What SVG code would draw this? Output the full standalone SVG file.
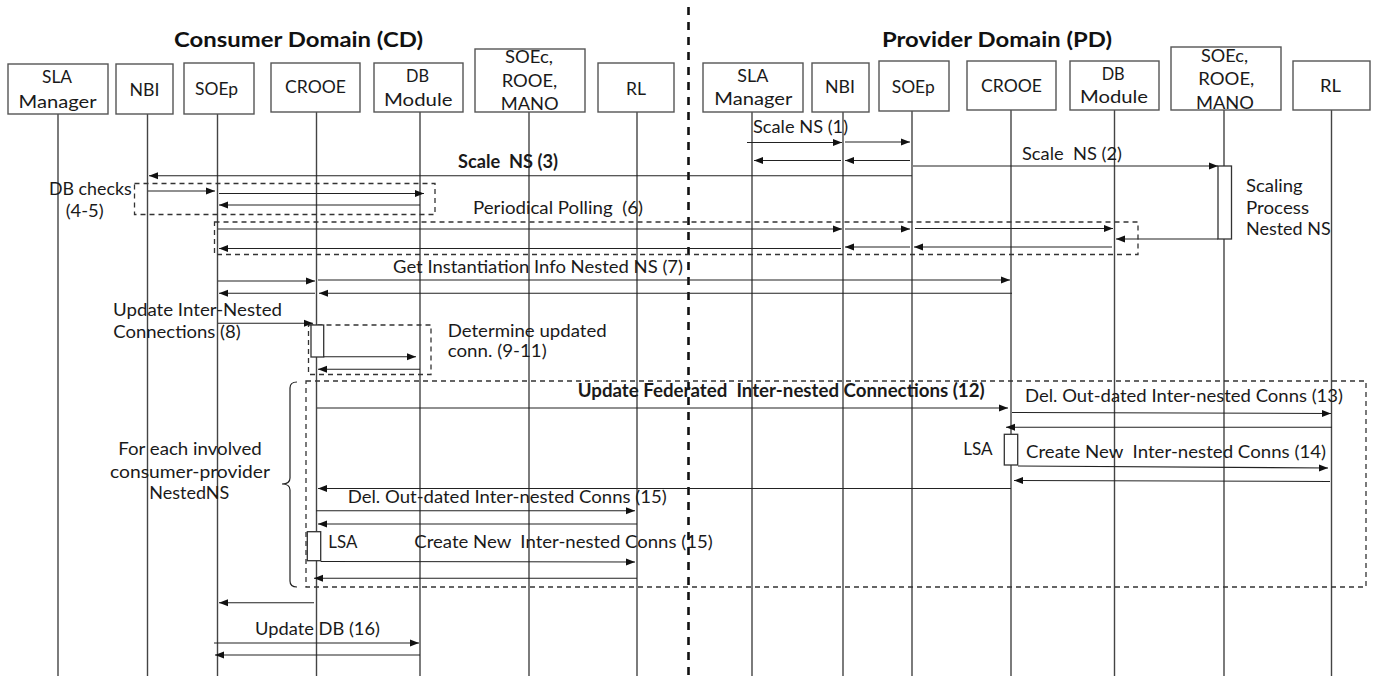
<svg xmlns="http://www.w3.org/2000/svg" width="1379" height="679" viewBox="0 0 1379 679">
<defs>
<marker id="ah" markerWidth="9" markerHeight="8" refX="9" refY="4" orient="auto" markerUnits="userSpaceOnUse"><path d="M0,0.5 L9,4 L0,7.5 z" fill="#111"/></marker>
<style>
.box{fill:#fff;stroke:#555;stroke-width:1.4}
.life{stroke:#444;stroke-width:1.4;fill:none}
.t{font-family:Lato,"Liberation Sans",sans-serif;font-size:18px;fill:#1a1a1a;white-space:pre}
.b{font-weight:bold}
.ttl{font-family:Lato,"Liberation Sans",sans-serif;font-size:21px;font-weight:bold;fill:#111}
.msg{stroke:#222;stroke-width:1.1;fill:none;marker-end:url(#ah)}
.dash{fill:none;stroke:#333;stroke-width:1.3;stroke-dasharray:5,4}
.act{fill:#fff;stroke:#333;stroke-width:1.3}
</style>
</defs>
<rect width="1379" height="679" fill="#fff"/>

<line x1="688.5" y1="7" x2="688.5" y2="679" stroke="#111" stroke-width="2.6" stroke-dasharray="8,7"/>
<text class="ttl" x="174" y="46.7" textLength="249" lengthAdjust="spacingAndGlyphs">Consumer Domain (CD)</text>
<text class="ttl" x="882" y="46.7" textLength="230" lengthAdjust="spacingAndGlyphs">Provider Domain (PD)</text>

<!-- Consumer domain nodes -->
<g id="cd-sla">
<line class="life" x1="58" y1="114" x2="58" y2="676"/>
<rect class="box" x="8" y="64" width="100" height="50"/>
<text class="t" x="42" y="83.3" textLength="30" lengthAdjust="spacingAndGlyphs">SLA</text>
<text class="t" x="18.5" y="107.5" textLength="78" lengthAdjust="spacingAndGlyphs">Manager</text>
</g>
<g id="cd-nbi">
<line class="life" x1="147.5" y1="114" x2="147.5" y2="676"/>
<rect class="box" x="116" y="64" width="57" height="50"/>
<text class="t" x="129.5" y="96" textLength="30" lengthAdjust="spacingAndGlyphs">NBI</text>
</g>
<g id="cd-soep">
<line class="life" x1="217.5" y1="114" x2="217.5" y2="676"/>
<rect class="box" x="184" y="63" width="70" height="51"/>
<text class="t" x="195" y="95" textLength="43" lengthAdjust="spacingAndGlyphs">SOEp</text>
</g>
<g id="cd-crooe">
<line class="life" x1="316.5" y1="112" x2="316.5" y2="676"/>
<rect class="box" x="271" y="63" width="89" height="49"/>
<text class="t" x="285" y="93.3" textLength="61" lengthAdjust="spacingAndGlyphs">CROOE</text>
</g>
<g id="cd-db">
<line class="life" x1="420" y1="112" x2="420" y2="676"/>
<rect class="box" x="374" y="63" width="89" height="49"/>
<text class="t" x="406" y="81.7" textLength="23" lengthAdjust="spacingAndGlyphs">DB</text>
<text class="t" x="384" y="105.7" textLength="68.5" lengthAdjust="spacingAndGlyphs">Module</text>
</g>
<g id="cd-soec">
<line class="life" x1="529" y1="112" x2="529" y2="676"/>
<rect class="box" x="475" y="49" width="110" height="63"/>
<text class="t" x="505" y="63.3" textLength="48" lengthAdjust="spacingAndGlyphs">SOEc,</text>
<text class="t" x="501.7" y="86.7" textLength="55.6" lengthAdjust="spacingAndGlyphs">ROOE,</text>
<text class="t" x="500.7" y="110" textLength="58" lengthAdjust="spacingAndGlyphs">MANO</text>
</g>
<g id="cd-rl">
<line class="life" x1="637" y1="112" x2="637" y2="676"/>
<rect class="box" x="598" y="63" width="76" height="49"/>
<text class="t" x="626" y="95" textLength="20" lengthAdjust="spacingAndGlyphs">RL</text>
</g>

<!-- Provider domain nodes -->
<g id="pd-sla">
<line class="life" x1="752" y1="112" x2="752" y2="676"/>
<rect class="box" x="703" y="63" width="100" height="49"/>
<text class="t" x="737.3" y="81.7" textLength="31" lengthAdjust="spacingAndGlyphs">SLA</text>
<text class="t" x="714.3" y="105" textLength="78" lengthAdjust="spacingAndGlyphs">Manager</text>
</g>
<g id="pd-nbi">
<line class="life" x1="843" y1="112" x2="843" y2="676"/>
<rect class="box" x="812" y="63" width="57" height="49"/>
<text class="t" x="825" y="93.3" textLength="30" lengthAdjust="spacingAndGlyphs">NBI</text>
</g>
<g id="pd-soep">
<line class="life" x1="912" y1="111" x2="912" y2="676"/>
<rect class="box" x="879" y="61" width="70" height="50"/>
<text class="t" x="891.7" y="93" textLength="43" lengthAdjust="spacingAndGlyphs">SOEp</text>
</g>
<g id="pd-crooe">
<line class="life" x1="1011" y1="110" x2="1011" y2="676"/>
<rect class="box" x="967" y="61" width="89" height="49"/>
<text class="t" x="981" y="91.7" textLength="61" lengthAdjust="spacingAndGlyphs">CROOE</text>
</g>
<g id="pd-db">
<line class="life" x1="1114.5" y1="110" x2="1114.5" y2="676"/>
<rect class="box" x="1070" y="61" width="89" height="49"/>
<text class="t" x="1101.7" y="80" textLength="23" lengthAdjust="spacingAndGlyphs">DB</text>
<text class="t" x="1080" y="102.7" textLength="68" lengthAdjust="spacingAndGlyphs">Module</text>
</g>
<g id="pd-soec">
<line class="life" x1="1224" y1="110" x2="1224" y2="676"/>
<rect class="box" x="1171" y="47" width="110" height="63"/>
<text class="t" x="1201" y="61.7" textLength="47" lengthAdjust="spacingAndGlyphs">SOEc,</text>
<text class="t" x="1198.3" y="85" textLength="56" lengthAdjust="spacingAndGlyphs">ROOE,</text>
<text class="t" x="1196" y="108.7" textLength="58" lengthAdjust="spacingAndGlyphs">MANO</text>
</g>
<g id="pd-rl">
<line class="life" x1="1331.5" y1="110" x2="1331.5" y2="676"/>
<rect class="box" x="1293" y="61" width="77" height="49"/>
<text class="t" x="1320" y="91.7" textLength="21" lengthAdjust="spacingAndGlyphs">RL</text>
</g>

<!-- Fragments / activation boxes -->
<g id="fragments">
<rect class="dash" x="134.5" y="183.5" width="300.5" height="31"/>
<rect class="dash" x="214.5" y="222" width="923.5" height="32.5"/>
<rect class="dash" x="308.5" y="325" width="122.5" height="49.5"/>
<rect class="dash" x="306" y="381" width="1060" height="206"/>
<path d="M297,382 Q290,382 290,388 L290,478 Q290,484 282,484 Q290,484 290,490 L290,581 Q290,587 297,587" fill="none" stroke="#222" stroke-width="1.2"/>
<rect class="act" x="1218" y="166" width="13.5" height="73"/>
<rect class="act" x="311" y="325" width="12.7" height="32"/>
<rect class="act" x="1004.3" y="434.3" width="13.4" height="30.7"/>
<rect class="act" x="307.3" y="531.7" width="13.4" height="29"/>
</g>

<!-- Connectors -->
<g id="connectors">
<line class="msg" x1="747" y1="142.5" x2="842" y2="142.5"/>
<line class="msg" x1="845" y1="142" x2="910" y2="142"/>
<line class="msg" x1="910" y1="160.5" x2="845" y2="160.5"/>
<line class="msg" x1="841" y1="160.5" x2="754" y2="160.5"/>
<line class="msg" x1="913" y1="166" x2="1218" y2="166"/>
<line class="msg" x1="912" y1="175.8" x2="149" y2="175.8"/>
<line class="msg" x1="148" y1="191" x2="215" y2="191"/>
<line class="msg" x1="219" y1="193.5" x2="424" y2="193.5"/>
<line class="msg" x1="420" y1="205" x2="219" y2="205"/>
<line class="msg" x1="218" y1="229" x2="842" y2="229"/>
<line class="msg" x1="845" y1="229" x2="910" y2="229"/>
<line class="msg" x1="915" y1="228.5" x2="1113" y2="228.5"/>
<line class="msg" x1="1218" y1="239" x2="1116" y2="239"/>
<line class="msg" x1="1112" y1="247" x2="914" y2="247"/>
<line class="msg" x1="910" y1="247" x2="845" y2="247"/>
<line class="msg" x1="841" y1="248.5" x2="219" y2="248.5"/>
<line class="msg" x1="218" y1="281" x2="315" y2="281"/>
<line class="msg" x1="318" y1="280" x2="1010" y2="280"/>
<line class="msg" x1="1012" y1="293.3" x2="319" y2="293.3"/>
<line class="msg" x1="315" y1="293.3" x2="219" y2="293.3"/>
<line class="msg" x1="218" y1="323.3" x2="313" y2="323.3"/>
<line class="msg" x1="323.7" y1="356.7" x2="416" y2="356.7"/>
<line class="msg" x1="420" y1="369.3" x2="318" y2="369.3"/>
<line class="msg" x1="317" y1="408" x2="1008" y2="408"/>
<line class="msg" x1="1012" y1="412.5" x2="1331" y2="413.5"/>
<line class="msg" x1="1332" y1="427.3" x2="1006" y2="427.3"/>
<line class="msg" x1="1018" y1="466" x2="1328" y2="468"/>
<line class="msg" x1="1330" y1="481.5" x2="1014" y2="480.5"/>
<line class="msg" x1="1011" y1="488.5" x2="318" y2="488.5"/>
<line class="msg" x1="316" y1="510.7" x2="635" y2="510.7"/>
<line class="msg" x1="637" y1="524" x2="318" y2="524"/>
<line class="msg" x1="320.7" y1="561.5" x2="635" y2="562"/>
<line class="msg" x1="637" y1="578.3" x2="314" y2="578.3"/>
<line class="msg" x1="314" y1="602.7" x2="219" y2="602.7"/>
<line class="msg" x1="214" y1="643" x2="419" y2="643"/>
<line class="msg" x1="420" y1="655" x2="215" y2="655"/>
</g>

<!-- Labels -->
<g id="labels">
<text class="t" x="753" y="133" textLength="95" lengthAdjust="spacingAndGlyphs">Scale NS (1)</text>
<text class="t" x="1022" y="160" textLength="100" lengthAdjust="spacingAndGlyphs">Scale  NS (2)</text>
<text class="t b" x="458" y="167.5" textLength="100" lengthAdjust="spacingAndGlyphs">Scale  NS (3)</text>
<text class="t" x="1246" y="191.7" textLength="56.7" lengthAdjust="spacingAndGlyphs">Scaling</text>
<text class="t" x="1246" y="214" textLength="63" lengthAdjust="spacingAndGlyphs">Process</text>
<text class="t" x="1246" y="235" textLength="84.7" lengthAdjust="spacingAndGlyphs">Nested NS</text>
<text class="t" x="49" y="195" textLength="82.7" lengthAdjust="spacingAndGlyphs">DB checks</text>
<text class="t" x="65.7" y="216.7" textLength="38" lengthAdjust="spacingAndGlyphs">(4-5)</text>
<text class="t" x="473" y="214" textLength="170" lengthAdjust="spacingAndGlyphs">Periodical Polling  (6)</text>
<text class="t" x="393" y="272.7" textLength="290" lengthAdjust="spacingAndGlyphs">Get Instantiation Info Nested NS (7)</text>
<text class="t" x="113" y="315.7" textLength="169" lengthAdjust="spacingAndGlyphs">Update Inter-Nested</text>
<text class="t" x="113.3" y="338.3" textLength="127.4" lengthAdjust="spacingAndGlyphs">Connections (8)</text>
<text class="t" x="447.7" y="336.7" textLength="159" lengthAdjust="spacingAndGlyphs">Determine updated</text>
<text class="t" x="447.7" y="357.3" textLength="99" lengthAdjust="spacingAndGlyphs">conn. (9-11)</text>
<text class="t b" x="577.7" y="396.7" textLength="407" lengthAdjust="spacingAndGlyphs">Update Federated  Inter-nested Connections (12)</text>
<text class="t" x="1025" y="402.3" textLength="318" lengthAdjust="spacingAndGlyphs">Del. Out-dated Inter-nested Conns (13)</text>
<text class="t" x="963.3" y="455" textLength="29.4" lengthAdjust="spacingAndGlyphs">LSA</text>
<text class="t" x="1026" y="457.7" textLength="300" lengthAdjust="spacingAndGlyphs">Create New  Inter-nested Conns (14)</text>
<text class="t" x="118.3" y="455" textLength="143.4" lengthAdjust="spacingAndGlyphs">For each involved</text>
<text class="t" x="110" y="478.3" textLength="160" lengthAdjust="spacingAndGlyphs">consumer-provider</text>
<text class="t" x="149.3" y="499.3" textLength="80" lengthAdjust="spacingAndGlyphs">NestedNS</text>
<text class="t" x="347.7" y="503.3" textLength="319" lengthAdjust="spacingAndGlyphs">Del. Out-dated Inter-nested Conns (15)</text>
<text class="t" x="328.3" y="548.3" textLength="29" lengthAdjust="spacingAndGlyphs">LSA</text>
<text class="t" x="414.3" y="548.3" textLength="298.4" lengthAdjust="spacingAndGlyphs">Create New  Inter-nested Conns (15)</text>
<text class="t" x="255" y="635" textLength="125" lengthAdjust="spacingAndGlyphs">Update DB (16)</text>
</g>
</svg>
